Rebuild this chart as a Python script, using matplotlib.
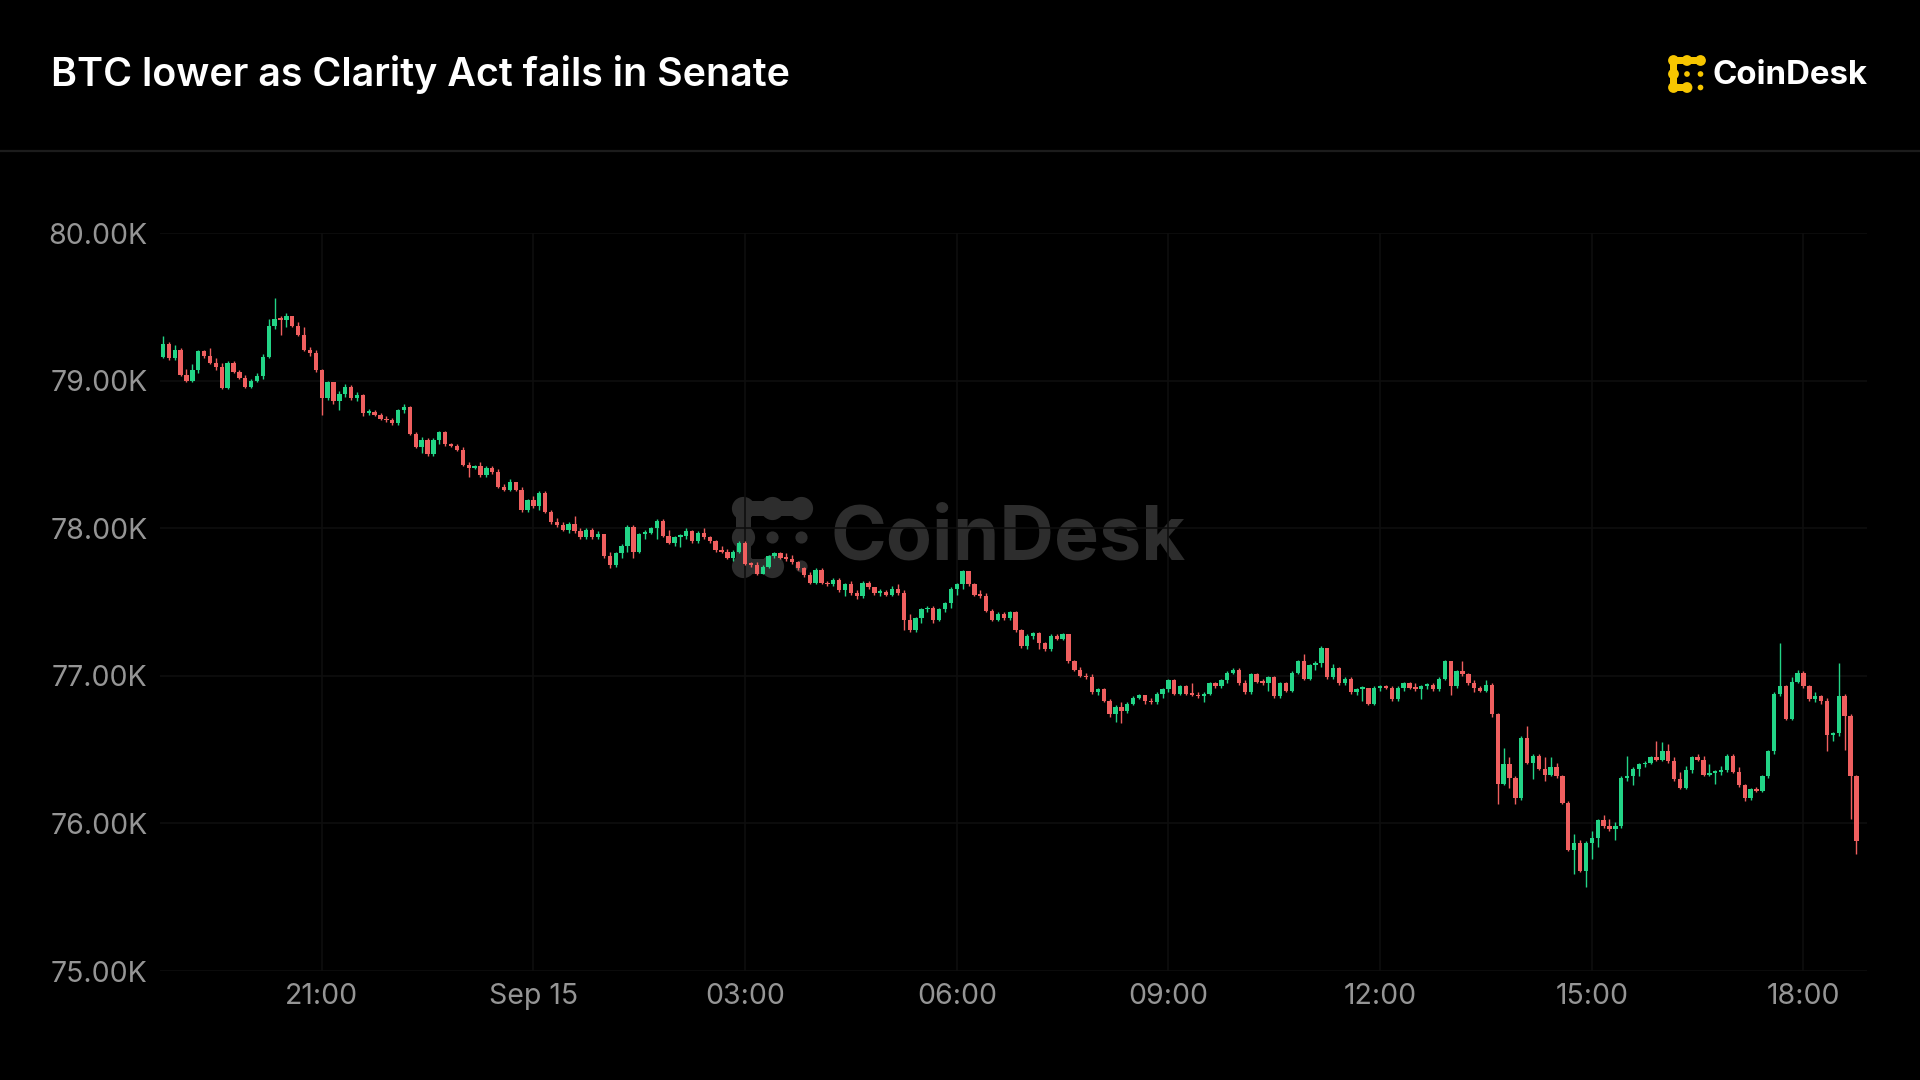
import matplotlib
matplotlib.use("Agg")
import matplotlib.pyplot as plt
import matplotlib.dates as mdates
from matplotlib.patches import Circle, Rectangle
import pandas as pd

plt.rcParams['font.family'] = ['Inter', 'DejaVu Sans']

# ---------------- data (BTC 5-minute candles, values in thousands USD) ----------------
start_time = "2025-09-14 18:45"
first_open = 79.16

closes = [
    79.25, 79.15, 79.21, 79.04, 79.00, 79.07, 79.20, 79.17, 79.12, 79.09,
    78.95, 79.12, 79.06, 79.02, 78.96, 79.00, 79.03, 79.16, 79.37, 79.42,
    79.41, 79.44, 79.37, 79.31, 79.21, 79.19, 79.07, 78.88, 78.99, 78.86,
    78.91, 78.96, 78.88, 78.90, 78.78, 78.79, 78.77, 78.74, 78.73, 78.71,
    78.80, 78.82, 78.64, 78.55, 78.60, 78.50, 78.60, 78.65, 78.57, 78.56,
    78.53, 78.43, 78.41, 78.42, 78.36, 78.41, 78.38, 78.28, 78.26, 78.31,
    78.26, 78.12, 78.19, 78.15, 78.24, 78.11, 78.04, 78.02, 77.99, 78.03,
    77.98, 77.94, 77.99, 77.94, 77.96, 77.81, 77.75, 77.83, 77.88, 78.01,
    77.84, 77.96, 77.97, 78.00, 78.05, 77.95, 77.90, 77.94, 77.95, 77.98,
    77.91, 77.97, 77.94, 77.91, 77.85, 77.84, 77.80, 77.84, 77.90, 77.76,
    77.75, 77.69, 77.74, 77.81, 77.83, 77.80, 77.79, 77.77, 77.73, 77.68,
    77.63, 77.72, 77.63, 77.62, 77.65, 77.58, 77.62, 77.56, 77.54, 77.63,
    77.60, 77.56, 77.57, 77.55, 77.59, 77.56, 77.38, 77.31, 77.39, 77.45,
    77.46, 77.38, 77.45, 77.49, 77.59, 77.62, 77.71, 77.62, 77.55, 77.54,
    77.44, 77.38, 77.42, 77.39, 77.43, 77.31, 77.20, 77.27, 77.29, 77.22,
    77.18, 77.27, 77.25, 77.28, 77.10, 77.04, 77.00, 76.99, 76.89, 76.91,
    76.83, 76.74, 76.79, 76.76, 76.81, 76.85, 76.87, 76.83, 76.82, 76.88,
    76.91, 76.97, 76.88, 76.93, 76.88, 76.87, 76.86, 76.88, 76.95, 76.93,
    76.97, 77.02, 77.04, 76.95, 76.89, 77.01, 76.96, 76.95, 76.99, 76.86,
    76.95, 76.90, 77.02, 77.10, 76.98, 77.07, 77.09, 77.19, 76.99, 77.05,
    76.95, 76.98, 76.89, 76.91, 76.92, 76.81, 76.92, 76.93, 76.92, 76.84,
    76.92, 76.95, 76.92, 76.91, 76.93, 76.94, 76.91, 76.98, 77.10, 76.93,
    77.03, 77.01, 76.95, 76.92, 76.90, 76.94, 76.74, 76.27, 76.40, 76.31,
    76.17, 76.58, 76.41, 76.46, 76.37, 76.33, 76.38, 76.32, 76.14, 75.82,
    75.87, 75.68, 75.87, 75.90, 76.02, 75.98, 75.96, 75.98, 76.31, 76.32,
    76.37, 76.40, 76.41, 76.45, 76.43, 76.49, 76.42, 76.30, 76.24, 76.36,
    76.45, 76.43, 76.33, 76.34, 76.35, 76.36, 76.46, 76.35, 76.26, 76.17,
    76.23, 76.22, 76.32, 76.49, 76.88, 76.93, 76.71, 76.96, 77.02, 76.93,
    76.84, 76.86, 76.83, 76.60, 76.61, 76.86, 76.73, 76.32, 75.88,
]

highs = [
    79.30, 79.26, 79.24, 79.22, 79.08, 79.11, 79.21, 79.21, 79.22, 79.15,
    79.12, 79.13, 79.13, 79.07, 79.04, 79.01, 79.05, 79.18, 79.42, 79.56,
    79.44, 79.46, 79.44, 79.40, 79.36, 79.23, 79.21, 79.08, 79.00, 78.99,
    78.93, 78.98, 78.97, 78.92, 78.91, 78.81, 78.80, 78.78, 78.76, 78.75,
    78.81, 78.84, 78.83, 78.65, 78.62, 78.61, 78.61, 78.66, 78.66, 78.58,
    78.57, 78.55, 78.45, 78.43, 78.45, 78.42, 78.42, 78.40, 78.30, 78.33,
    78.31, 78.28, 78.20, 78.22, 78.25, 78.25, 78.12, 78.07, 78.04, 78.04,
    78.08, 78.00, 78.00, 78.00, 77.98, 77.96, 77.84, 77.84, 77.89, 78.02,
    78.02, 77.97, 77.99, 78.01, 78.06, 78.06, 77.99, 77.95, 77.96, 78.00,
    77.99, 77.98, 78.00, 77.95, 77.92, 77.88, 77.86, 77.85, 77.91, 77.91,
    77.77, 77.77, 77.75, 77.82, 77.84, 77.84, 77.83, 77.82, 77.78, 77.74,
    77.70, 77.73, 77.73, 77.64, 77.66, 77.66, 77.63, 77.64, 77.58, 77.64,
    77.64, 77.60, 77.59, 77.58, 77.61, 77.62, 77.58, 77.42, 77.40, 77.46,
    77.47, 77.47, 77.46, 77.50, 77.60, 77.63, 77.72, 77.71, 77.63, 77.58,
    77.56, 77.45, 77.43, 77.43, 77.44, 77.44, 77.32, 77.28, 77.30, 77.30,
    77.23, 77.28, 77.28, 77.29, 77.28, 77.11, 77.06, 77.02, 77.01, 76.92,
    76.92, 76.84, 76.80, 76.82, 76.82, 76.86, 76.88, 76.87, 76.85, 76.89,
    76.92, 76.98, 76.98, 76.94, 76.94, 76.95, 76.89, 76.89, 76.96, 76.96,
    76.98, 77.03, 77.05, 77.05, 76.97, 77.02, 77.02, 76.98, 77.00, 77.00,
    76.96, 76.96, 77.03, 77.11, 77.15, 77.08, 77.10, 77.20, 77.19, 77.08,
    77.06, 76.99, 76.99, 76.92, 76.93, 76.92, 76.93, 76.94, 76.94, 76.93,
    76.93, 76.96, 76.96, 76.95, 76.94, 76.95, 76.95, 76.99, 77.11, 77.10,
    77.04, 77.10, 77.02, 76.97, 76.93, 76.97, 76.95, 76.75, 76.51, 76.45,
    76.32, 76.59, 76.66, 76.47, 76.47, 76.45, 76.45, 76.41, 76.33, 76.15,
    75.93, 75.89, 75.88, 75.95, 76.03, 76.06, 76.03, 76.01, 76.32, 76.46,
    76.38, 76.41, 76.42, 76.46, 76.56, 76.55, 76.54, 76.45, 76.35, 76.39,
    76.46, 76.47, 76.46, 76.40, 76.36, 76.39, 76.47, 76.47, 76.38, 76.27,
    76.24, 76.25, 76.33, 76.50, 76.89, 77.22, 76.94, 76.99, 77.04, 77.03,
    76.94, 76.89, 76.87, 76.85, 76.62, 77.09, 76.88, 76.74, 76.33,
]

lows = [
    79.15, 79.14, 79.14, 79.03, 78.99, 78.99, 79.05, 79.15, 79.11, 79.07,
    78.94, 78.94, 79.05, 79.01, 78.95, 78.95, 78.99, 79.01, 79.15, 79.35,
    79.31, 79.36, 79.36, 79.30, 79.20, 79.17, 79.06, 78.77, 78.87, 78.84,
    78.80, 78.89, 78.87, 78.86, 78.76, 78.77, 78.76, 78.73, 78.72, 78.70,
    78.70, 78.78, 78.63, 78.54, 78.51, 78.49, 78.49, 78.57, 78.56, 78.55,
    78.52, 78.42, 78.35, 78.40, 78.35, 78.35, 78.37, 78.27, 78.25, 78.25,
    78.25, 78.11, 78.11, 78.14, 78.12, 78.10, 78.03, 78.01, 77.98, 77.97,
    77.97, 77.93, 77.93, 77.93, 77.93, 77.80, 77.73, 77.74, 77.80, 77.84,
    77.80, 77.83, 77.93, 77.96, 77.93, 77.94, 77.89, 77.88, 77.87, 77.93,
    77.90, 77.90, 77.93, 77.90, 77.84, 77.83, 77.79, 77.78, 77.83, 77.75,
    77.74, 77.68, 77.69, 77.73, 77.80, 77.79, 77.78, 77.76, 77.72, 77.67,
    77.62, 77.62, 77.62, 77.61, 77.61, 77.57, 77.54, 77.55, 77.52, 77.53,
    77.59, 77.55, 77.54, 77.54, 77.54, 77.55, 77.31, 77.30, 77.30, 77.36,
    77.43, 77.36, 77.37, 77.43, 77.46, 77.55, 77.59, 77.61, 77.54, 77.53,
    77.43, 77.37, 77.37, 77.38, 77.38, 77.30, 77.19, 77.18, 77.25, 77.18,
    77.17, 77.17, 77.24, 77.24, 77.09, 77.03, 76.99, 76.98, 76.88, 76.87,
    76.82, 76.72, 76.69, 76.68, 76.75, 76.80, 76.84, 76.81, 76.81, 76.81,
    76.85, 76.89, 76.87, 76.87, 76.87, 76.86, 76.85, 76.82, 76.87, 76.92,
    76.92, 76.95, 77.01, 76.94, 76.88, 76.88, 76.95, 76.94, 76.90, 76.85,
    76.85, 76.89, 76.89, 77.01, 76.97, 76.97, 77.04, 77.06, 76.98, 76.98,
    76.94, 76.94, 76.88, 76.87, 76.83, 76.80, 76.80, 76.90, 76.91, 76.83,
    76.83, 76.90, 76.91, 76.90, 76.84, 76.91, 76.90, 76.90, 76.97, 76.87,
    76.92, 77.00, 76.94, 76.89, 76.89, 76.89, 76.72, 76.13, 76.26, 76.24,
    76.13, 76.16, 76.40, 76.30, 76.36, 76.29, 76.32, 76.31, 76.13, 75.81,
    75.66, 75.67, 75.57, 75.76, 75.84, 75.97, 75.95, 75.89, 75.97, 76.29,
    76.26, 76.32, 76.38, 76.40, 76.42, 76.42, 76.41, 76.29, 76.23, 76.23,
    76.34, 76.42, 76.32, 76.32, 76.27, 76.33, 76.35, 76.34, 76.25, 76.15,
    76.16, 76.21, 76.21, 76.31, 76.47, 76.86, 76.70, 76.70, 76.95, 76.92,
    76.83, 76.82, 76.81, 76.49, 76.56, 76.59, 76.50, 76.03, 75.79,
]

tick_times = ["2025-09-14 21:00", "2025-09-15 00:00", "2025-09-15 03:00", "2025-09-15 06:00",
              "2025-09-15 09:00", "2025-09-15 12:00", "2025-09-15 15:00", "2025-09-15 18:00"]
tick_labels = ["21:00", "Sep 15", "03:00", "06:00", "09:00", "12:00", "15:00", "18:00"]
y_ticks = [75, 76, 77, 78, 79, 80]
y_labels = ["75.00K", "76.00K", "77.00K", "78.00K", "79.00K", "80.00K"]

title = "BTC lower as Clarity Act fails in Senate"
brand = "CoinDesk"

# ---------------- styling ----------------
BG = "#000000"
UP = "#22d486"
DOWN = "#ef5f5f"
GRID = "#0e0e0e"
LABEL = "#959595"

n = min(len(closes), len(highs), len(lows))
times = pd.date_range(start_time, periods=n, freq="5min")
x = mdates.date2num(times)
step = 5.0 / 1440.0
opens = [first_open] + closes[:n - 1]

fig = plt.figure(figsize=(19.2, 10.8), dpi=100, facecolor=BG)

# background / overlay axes in pixel coordinates
bg = fig.add_axes([0, 0, 1, 1], zorder=0)
bg.set_xlim(0, 1920)
bg.set_ylim(1080, 0)
bg.axis("off")
bg.set_facecolor(BG)

# header separator
bg.plot([0, 1920], [151, 151], color="#1c1c1c", lw=1.6, solid_capstyle="butt")


def draw_icon(axis, x0, y0, s, color, z=1):
    r = 0.40 * s
    big = [(0, 0), (1, 0), (2, 0), (0, 1), (0, 2), (1, 2)]
    for c, rw in big:
        axis.add_patch(Circle((x0 + c * s, y0 + rw * s), r, color=color, lw=0, zorder=z))
    th = 1.25 * r
    axis.add_patch(Rectangle((x0, y0 - th / 2), 2 * s, th, color=color, lw=0, zorder=z))
    axis.add_patch(Rectangle((x0 - th / 2, y0), th, 2 * s, color=color, lw=0, zorder=z))
    axis.add_patch(Rectangle((x0, y0 + 2 * s - th / 2), s, th, color=color, lw=0, zorder=z))
    for c, rw in [(1, 1), (2, 1), (2, 2)]:
        axis.add_patch(Circle((x0 + c * s, y0 + rw * s), 0.21 * s, color=color, lw=0, zorder=z))


# watermark
draw_icon(bg, 743.5, 508.5, 29.0, "#2d2d2d")
wm = bg.text(830, 540, brand, color="#2d2d2d", fontsize=60, fontweight="bold",
             ha="left", va="center")

# header logo
draw_icon(bg, 1673.5, 60.5, 13.5, "#f7c600")
logo = bg.text(1712, 75, brand, color="white", fontsize=23, fontweight="bold",
               ha="left", va="center")

ttl = fig.text(51 / 1920, 1 - 75 / 1080, title, color="white", fontsize=29,
               fontweight="semibold", ha="left", va="center")

# main chart axes
left, right = 160 / 1920, 1867 / 1920
bottom, top = 1 - 971 / 1080, 1 - 233 / 1080
ax = fig.add_axes([left, bottom, right - left, top - bottom], zorder=1)
ax.patch.set_alpha(0)

for s in ax.spines.values():
    s.set_visible(False)

ax.set_ylim(75, 80)
ax.set_xlim(x[0] - 0.5 * step, x[0] + 289.8 * step)

tick_x = mdates.date2num(pd.to_datetime(tick_times))
ax.set_xticks(tick_x)
ax.set_xticklabels(tick_labels)
ax.set_yticks(y_ticks)
ax.set_yticklabels(y_labels)
ax.tick_params(axis="both", length=0, colors=LABEL, labelsize=20.5)
ax.tick_params(axis="y", pad=9)
ax.tick_params(axis="x", pad=8.5)
ax.grid(True, color=GRID, lw=1.2, zorder=0)
ax.set_axisbelow(True)

body_w = 0.74 * step
min_h = 0.012
for i in range(n):
    o, c = opens[i], closes[i]
    h = max(highs[i], o, c)
    l = min(lows[i], o, c)
    col = UP if c >= o else DOWN
    ax.vlines(x[i], l, h, color=col, lw=1.0, zorder=3)
    b = min(o, c)
    hgt = max(abs(c - o), min_h)
    ax.bar(x[i], hgt, width=body_w, bottom=b, color=col, lw=0, zorder=4)

# fit text widths to the reference layout
fig.canvas.draw()
rend = fig.canvas.get_renderer()
for t, target in [(ttl, 740), (logo, 155), (wm, 355)]:
    w = t.get_window_extent(renderer=rend).width
    t.set_fontsize(t.get_fontsize() * target / w)

fig.savefig("out.png", dpi=100, facecolor=BG)
